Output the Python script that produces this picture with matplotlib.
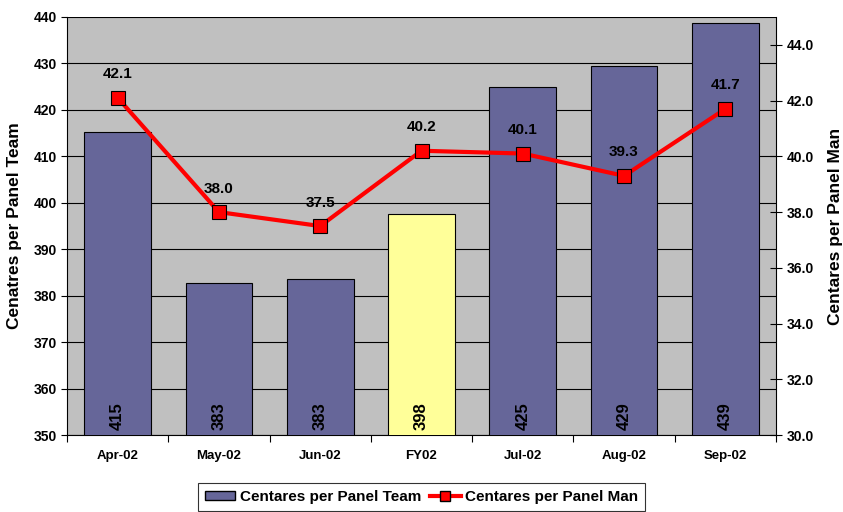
import numpy as np
import matplotlib.pyplot as plt
from matplotlib.patches import Patch
from matplotlib.lines import Line2D

plt.rcParams['font.family'] = ['Liberation Sans', 'DejaVu Sans']

# Data
months = ['Apr-02', 'May-02', 'Jun-02', 'FY02', 'Jul-02', 'Aug-02', 'Sep-02']
team = [415.2, 382.7, 383.5, 397.6, 425.0, 429.4, 438.6]
team_labels = ['415', '383', '383', '398', '425', '429', '439']
man = [42.1, 38.0, 37.5, 40.2, 40.1, 39.3, 41.7]

bar_colors = ['#666699', '#666699', '#666699', '#FFFF99', '#666699', '#666699', '#666699']

fig = plt.figure(figsize=(8.43, 5.12), dpi=100)
ax = fig.add_axes([0.0795, 0.150, 0.841, 0.817])
ax.set_facecolor('#C0C0C0')

x = np.arange(len(months))
ax.bar(x, team, width=0.66, bottom=0, color=bar_colors, edgecolor='black',
       linewidth=0.8, zorder=3)
ax.set_ylim(350, 440)
ax.set_xlim(-0.5, len(months) - 0.5)
ax.set_yticks(np.arange(350, 441, 10))
ax.yaxis.grid(True, color='black', linewidth=0.8, zorder=1)
ax.set_axisbelow(True)

# category boundary ticks on the x axis
ax.set_xticks(np.arange(-0.5, len(months), 1.0))
ax.set_xticklabels([])
ax.set_xticks(x, minor=True)
ax.set_xticklabels(months, minor=True, fontsize=9.5, fontweight='bold')
ax.tick_params(axis='x', which='minor', length=0, pad=11)
ax.tick_params(axis='x', which='major', length=5, direction='out')
ax.tick_params(axis='y', labelsize=10, length=4)
for lbl in ax.get_yticklabels():
    lbl.set_fontweight('bold')
for s in ['top', 'right']:
    ax.spines[s].set_visible(False)
ax.spines['left'].set_color('black')
ax.spines['bottom'].set_color('black')

for xi, lab in zip(x, team_labels):
    ax.text(xi, 351.2, lab, rotation=90, ha='center', va='bottom', fontsize=12,
            fontweight='bold', color='black', zorder=5)

ax.set_ylabel('Cenatres per Panel Team', fontsize=12.5, fontweight='bold', labelpad=8)

ax2 = ax.twinx()
ax2.plot(x, man, color='#FF0000', linewidth=3, marker='s', markersize=9.5,
         markerfacecolor='#FF0000', markeredgecolor='black', markeredgewidth=0.8, zorder=4)
ax2.set_ylim(30, 45)
ax2.set_yticks(np.arange(30, 44.1, 2))
ax2.set_yticklabels([f'{v:.1f}' for v in np.arange(30, 44.1, 2)], fontsize=10, fontweight='bold')
ax2.tick_params(axis='y', direction='inout', length=8)
for s in ['top', 'left', 'bottom']:
    ax2.spines[s].set_visible(False)
ax2.spines['right'].set_color('black')
for xi, v in zip(x, man):
    ax2.annotate(f'{v:.1f}', (xi, v), xytext=(0, 14), textcoords='offset points',
                 ha='center', va='baseline', fontsize=11, fontweight='bold')
ax2.set_ylabel('Centares per Panel Man', fontsize=12.5, fontweight='bold', labelpad=10)

handles = [Patch(facecolor='#666699', edgecolor='black', label='Centares per Panel Team'),
           Line2D([0], [0], color='#FF0000', linewidth=3, marker='s', markersize=7,
                  markerfacecolor='#FF0000', markeredgecolor='black',
                  label='Centares per Panel Man')]
leg = fig.legend(handles=handles, loc='upper center', bbox_to_anchor=(0.5, 0.056), ncol=2,
                 fontsize=11, frameon=True, fancybox=False, edgecolor='black',
                 handlelength=2.0, handleheight=0.55, columnspacing=0.6, handletextpad=0.3,
                 borderpad=0.45, borderaxespad=0)
leg.get_frame().set_linewidth(0.8)
for t in leg.get_texts():
    t.set_fontweight('bold')

fig.savefig('out.png', dpi=100)
